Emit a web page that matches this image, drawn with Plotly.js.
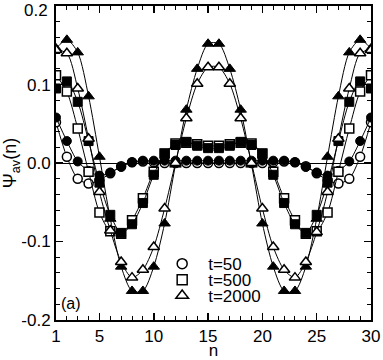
<!DOCTYPE html>
<html>
<head>
<meta charset="utf-8">
<script src="https://cdn.plot.ly/plotly-3.0.1.min.js"></script>
<style>
  html, body { margin: 0; padding: 0; background: #fff; }
  #plot { width: 383px; height: 360px; }
</style>
</head>
<body>
<div id="plot"></div>
<script>
const n = [1,2,3,4,5,6,7,8,9,10,11,12,13,14,15,16,17,18,19,20,21,22,23,24,25,26,27,28,29,30];

// t=50
const t50Open = [0.052, 0.008, -0.020, -0.026, -0.022, -0.013, -0.004, 0.001, 0.002, 0.001, 0.000, 0.000, 0.000, 0.000, 0.000,
                 0.000, 0.000, 0.000, 0.000, 0.000, 0.001, 0.002, 0.001, -0.004, -0.013, -0.022, -0.026, -0.020, 0.008, 0.052];
const t50Fill = [0.058, 0.028, 0.002, -0.010, -0.016, -0.012, -0.005, 0.001, 0.003, 0.003, 0.003, 0.003, 0.003, 0.003, 0.003,
                 0.003, 0.003, 0.003, 0.003, 0.003, 0.003, 0.003, 0.001, -0.005, -0.012, -0.016, -0.010, 0.002, 0.028, 0.058];
// t=500
const t500Open = [0.112, 0.091, 0.044, -0.011, -0.063, -0.087, -0.090, -0.073, -0.045, -0.011, 0.012, 0.025, 0.026, 0.024, 0.022,
                  0.022, 0.024, 0.026, 0.025, 0.012, -0.011, -0.045, -0.073, -0.090, -0.087, -0.063, -0.011, 0.044, 0.091, 0.112];
const t500Fill = [0.095, 0.104, 0.078, 0.028, -0.025, -0.066, -0.089, -0.078, -0.051, -0.015, 0.012, 0.023, 0.027, 0.022, 0.019,
                  0.019, 0.022, 0.027, 0.023, 0.012, -0.015, -0.051, -0.078, -0.089, -0.066, -0.025, 0.028, 0.078, 0.104, 0.095];
// t=2000
const t2000Open = [0.144, 0.140, 0.095, 0.031, -0.037, -0.086, -0.126, -0.146, -0.136, -0.107, -0.058, 0.000, 0.057, 0.101, 0.122,
                   0.122, 0.101, 0.057, 0.000, -0.058, -0.107, -0.136, -0.146, -0.126, -0.088, -0.037, 0.031, 0.095, 0.140, 0.144];
const t2000Fill = [0.146, 0.157, 0.141, 0.085, 0.008, -0.071, -0.132, -0.163, -0.163, -0.132, -0.077, -0.002, 0.068, 0.120, 0.152,
                   0.152, 0.120, 0.068, -0.002, -0.077, -0.132, -0.163, -0.163, -0.132, -0.071, 0.008, 0.085, 0.141, 0.157, 0.146];

const legendNames = ["t=50", "t=500", "t=2000"];
const symbols = ["circle", "square", "triangle-up"];

const xTicks = [1, 5, 10, 15, 20, 25, 30];
const yTicks = [-0.2, -0.1, 0.0, 0.1, 0.2];
const yTickText = ["-0.2", "-0.1", "0.0", "0.1", ""];   // top label drawn as annotation so it isn't clipped

const series = [
  [t50Open, t50Fill],
  [t500Open, t500Fill],
  [t2000Open, t2000Fill]
];
const sizes = [9, 9, 10];

function openTrace(y, i) {
  return {
    x: n, y: y, type: "scatter", mode: "lines+markers", showlegend: false,
    line: { color: "black", width: 1, shape: "spline", smoothing: 0.8 },
    marker: { symbol: symbols[i], size: sizes[i], color: "white", line: { color: "black", width: 1.5 } }
  };
}
function fillTrace(y, i) {
  return {
    x: n, y: y, type: "scatter", mode: "lines+markers", showlegend: false,
    line: { color: "black", width: 1, shape: "spline", smoothing: 0.8 },
    marker: { symbol: symbols[i], size: sizes[i], color: "black", line: { color: "black", width: 1 } }
  };
}

const data = [];
series.forEach(function (pair, i) {
  if (i < 2) {
    data.push(openTrace(pair[0], i));
    data.push(fillTrace(pair[1], i));
  } else {
    // open triangles sit on top at the edges
    data.push(fillTrace(pair[1], i));
    data.push(openTrace(pair[0], i));
  }
});

// legend entries (markers only), one small legend each
const legendIds = ["legend", "legend2", "legend3"];
legendNames.forEach(function (name, i) {
  data.push({
    x: [null], y: [null], type: "scatter", mode: "markers", name: name,
    legend: legendIds[i],
    marker: { symbol: symbols[i], size: sizes[i] + 1, color: "white", line: { color: "black", width: 1.5 } }
  });
});

const font = { family: "Liberation Sans, Arial, sans-serif", size: 16, color: "black" };
const legendRows = [0.178, 0.127, 0.0764];

function legendBox(y) {
  return {
    x: 0.318, y: y, xanchor: "left", yanchor: "middle",
    bgcolor: "rgba(0,0,0,0)", borderwidth: 0,
    font: { family: font.family, size: 17, color: "black" },
    itemwidth: 42
  };
}

const layout = {
  width: 383,
  height: 360,
  margin: { l: 56, r: 12, t: 6, b: 40 },
  paper_bgcolor: "white",
  plot_bgcolor: "white",
  font: font,
  showlegend: true,
  legend: legendBox(legendRows[0]),
  legend2: legendBox(legendRows[1]),
  legend3: legendBox(legendRows[2]),
  xaxis: {
    range: [1, 30],
    tickvals: xTicks,
    ticks: "inside", ticklen: 7, tickwidth: 1.5, tickcolor: "black",
    minor: { dtick: 1, tick0: 0, ticks: "inside", ticklen: 4, tickwidth: 1, tickcolor: "black" },
    showline: true, linewidth: 2, linecolor: "black", mirror: "allticks",
    showgrid: false, zeroline: false,
    tickfont: { family: font.family, size: 17, color: "black" },
    title: { text: "n", font: { family: font.family, size: 17, color: "black" }, standoff: 0 }
  },
  yaxis: {
    range: [-0.2, 0.2001],
    tickvals: yTicks, ticktext: yTickText,
    ticks: "inside", ticklen: 7, tickwidth: 1.5, tickcolor: "black",
    minor: { dtick: 0.02, tick0: 0, ticks: "inside", ticklen: 4, tickwidth: 1, tickcolor: "black" },
    showline: true, linewidth: 2, linecolor: "black", mirror: "allticks",
    showgrid: false, zeroline: true, zerolinecolor: "black", zerolinewidth: 1,
    tickfont: { family: font.family, size: 17, color: "black" },
    title: { text: "Ψ<sub>av</sub>(n)", font: { family: font.family, size: 18, color: "black" }, standoff: 0 }
  },
  annotations: [
    {
      text: "(a)", xref: "paper", yref: "paper", x: 0.01, y: 0.02,
      xanchor: "left", yanchor: "bottom", showarrow: false,
      font: { family: font.family, size: 16, color: "black" }
    },
    {
      text: "0.2", xref: "paper", yref: "paper", x: -0.018, y: 1, yshift: -4,
      xanchor: "right", yanchor: "middle", showarrow: false,
      font: { family: font.family, size: 17, color: "black" }
    }
  ]
};

Plotly.newPlot("plot", data, layout, { displayModeBar: false, staticPlot: true });
</script>
</body>
</html>
